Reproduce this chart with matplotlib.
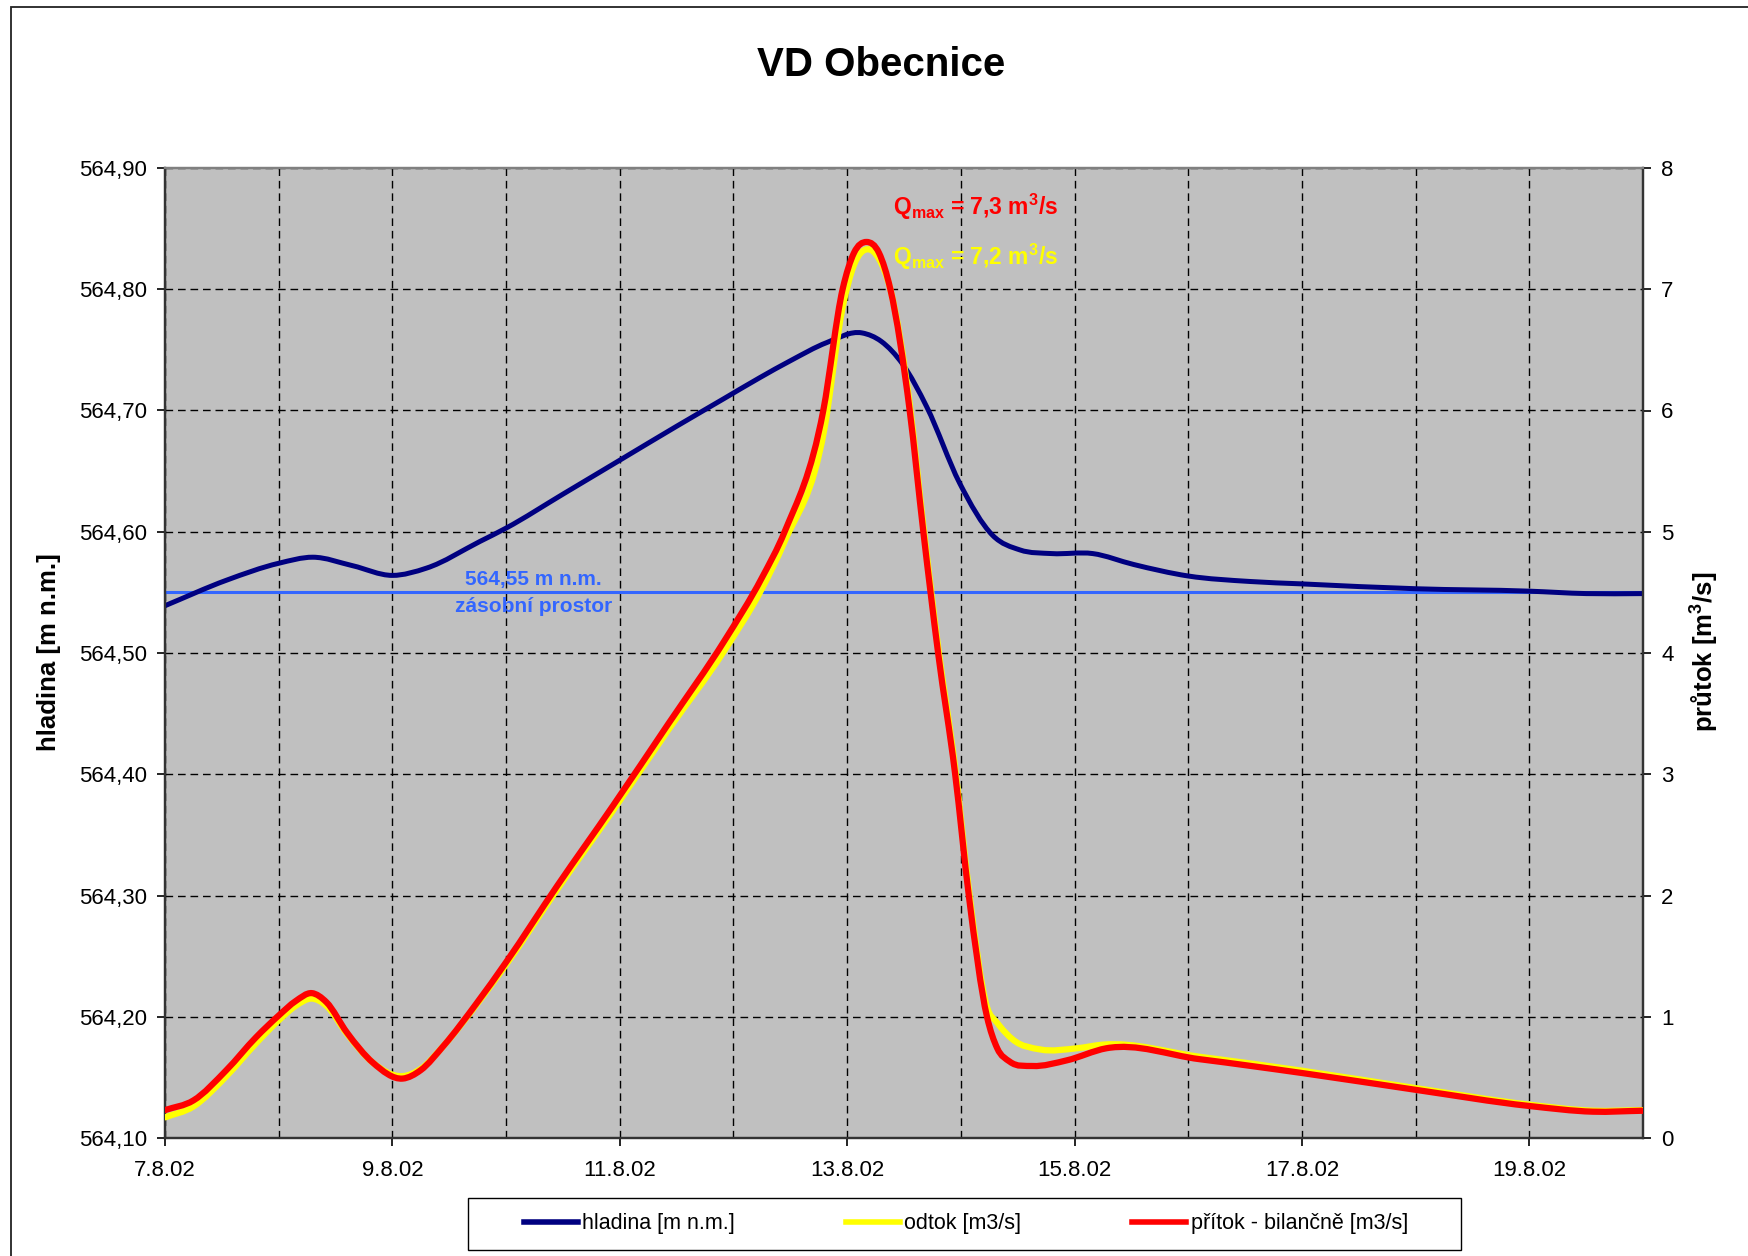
import numpy as np
import matplotlib
matplotlib.use('Agg')
import matplotlib.pyplot as plt
from matplotlib.path import Path
from matplotlib.patches import PathPatch, Rectangle
from matplotlib.lines import Line2D

plt.rcParams['font.family'] = ['Liberation Sans', 'DejaVu Sans']
plt.rcParams['mathtext.fontset'] = 'custom'
plt.rcParams['mathtext.bf'] = 'Liberation Sans:bold'
plt.rcParams['mathtext.rm'] = 'Liberation Sans:bold'

# days since 7.8.02
hladina_t = [0, 0.54, 1.0, 1.30, 1.65, 2.0, 2.3, 2.77, 3.0, 3.5, 4.0, 4.5, 4.92, 5.23, 5.5,
             5.82, 6.13, 6.3, 6.49, 6.70, 6.99, 7.28, 7.52, 7.8, 8.16, 8.52, 9.0,
             9.54, 10, 11, 12, 12.5, 13]
hladina = [564.539, 564.560, 564.574, 564.579, 564.572, 564.564, 564.570, 564.592, 564.603,
           564.631, 564.659, 564.687, 564.710, 564.727, 564.741, 564.756, 564.764, 564.757,
           564.738, 564.703, 564.640, 564.597, 564.585, 564.582, 564.582, 564.573,
           564.5635, 564.559, 564.557, 564.553, 564.551, 564.549, 564.549]

pritok_t = [0, 0.25, 0.54, 0.8, 1.0, 1.15, 1.29, 1.42, 1.6, 1.83, 2.09, 2.25, 2.45, 2.74, 3.0,
            3.45, 3.94, 4.43, 4.92, 5.25, 5.45, 5.79, 5.96, 6.06, 6.17, 6.28, 6.38, 6.55,
            6.67, 6.80, 6.95, 7.07, 7.23, 7.32, 7.43, 7.63, 7.93, 8.28, 9.1, 10, 11.01, 12,
            12.56, 13]
pritok = [0.23, 0.31, 0.56, 0.83, 1.01, 1.13, 1.195, 1.12, 0.87, 0.62, 0.49, 0.56, 0.76, 1.11,
          1.45, 2.08, 2.74, 3.42, 4.10, 4.62, 5.0, 6.0, 7.0, 7.3, 7.39, 7.3, 7.0, 6.0, 5.0, 4.0,
          3.0, 2.0, 1.0, 0.74, 0.63, 0.594, 0.64, 0.74, 0.65, 0.536, 0.396, 0.264, 0.217, 0.225]

odtok_t = [0, 0.25, 0.54, 0.8, 1.0, 1.15, 1.29, 1.42, 1.6, 1.83, 2.09, 2.25, 2.45, 2.74, 3.0,
           3.45, 3.94, 4.43, 4.92, 5.25, 5.45, 5.8, 5.96, 6.06, 6.18, 6.28, 6.38, 6.55, 6.67,
           6.80, 6.95, 7.07, 7.23, 7.32, 7.46, 7.7, 8.02, 8.25, 9.1, 10, 11.01, 12, 12.56, 13]
odtok = [0.17, 0.26, 0.51, 0.78, 0.97, 1.09, 1.15, 1.09, 0.86, 0.62, 0.51, 0.57, 0.76, 1.10,
         1.43, 2.05, 2.70, 3.37, 4.02, 4.53, 4.92, 5.85, 6.85, 7.2, 7.33, 7.25, 7.0, 6.05, 5.05,
         4.05, 3.05, 2.05, 1.08, 0.95, 0.81, 0.73, 0.74, 0.77, 0.67, 0.555, 0.41, 0.275, 0.225,
         0.23]

zasobni = 564.55
tick_days = [0, 2, 4, 6, 8, 10, 12]
tick_labels = ['7.8.02', '9.8.02', '11.8.02', '13.8.02', '15.8.02', '17.8.02', '19.8.02']


def smooth_path(xs, ys):
    # cubic Hermite through the points, drawn as bezier segments (Excel smoothed line)
    x = np.asarray(xs, float)
    y = np.asarray(ys, float)
    m = np.gradient(y, x)
    verts = [(x[0], y[0])]
    codes = [Path.MOVETO]
    for i in range(len(x) - 1):
        h = x[i + 1] - x[i]
        verts += [(x[i] + h / 3, y[i] + m[i] * h / 3),
                  (x[i + 1] - h / 3, y[i + 1] - m[i + 1] * h / 3),
                  (x[i + 1], y[i + 1])]
        codes += [Path.CURVE4] * 3
    return Path(verts, codes)


fig = plt.figure(figsize=(17.49, 12.56), dpi=100)
ax = fig.add_axes([165 / 1749, 1 - 1138 / 1256, 1478 / 1749, 970 / 1256])
ax2 = ax.twinx()

ax.set_facecolor('#C0C0C0')
ax.set_xlim(0, 13)
ax.set_ylim(564.10, 564.90)
ax2.set_ylim(0, 8)

ax.set_xticks(tick_days)
ax.set_xticklabels(tick_labels)
ax.set_xticks(np.arange(0, 14, 1), minor=True)
yt = np.round(np.arange(564.10, 564.901, 0.1), 2)
ax.set_yticks(yt)
ax.set_yticklabels([('%.2f' % v).replace('.', ',') for v in yt])
ax2.set_yticks(range(0, 9))

dash = (0, (5.5, 3.5))
ax.grid(True, which='both', axis='x', color='black', linestyle=dash, linewidth=1.0)
ax.grid(True, which='major', axis='y', color='black', linestyle=dash, linewidth=1.0)
ax.set_axisbelow(True)

ax.tick_params(axis='both', which='major', labelsize=16, length=6, width=1.2, direction='out', pad=7)
ax.tick_params(axis='x', which='major', pad=10)
ax.tick_params(axis='x', which='minor', length=0)
ax2.tick_params(axis='y', labelsize=16, length=6, width=1.2, direction='out', pad=7)

for a in (ax, ax2):
    for s in a.spines.values():
        s.set_color('#333333')
        s.set_linewidth(1.6)
    a.spines['top'].set_color('#808080')

# reference level
ax.axhline(zasobni, color='#3366FF', lw=2.2, zorder=2)
ax.text(3.24, 564.561, '564,55 m n.m.', color='#3366FF', fontsize=15, fontweight='bold',
        ha='center', va='center')
ax.text(3.24, 564.538, 'zásobní prostor', color='#3366FF', fontsize=15, fontweight='bold',
        ha='center', va='center')

ax.add_patch(PathPatch(smooth_path(hladina_t, hladina), fill=False, edgecolor='#000080',
                       lw=3.6, capstyle='round', joinstyle='round', zorder=3))
ax2.add_patch(PathPatch(smooth_path(odtok_t, odtok), fill=False, edgecolor='#FFFF00',
                        lw=4.5, capstyle='round', joinstyle='round', zorder=3))
ax2.add_patch(PathPatch(smooth_path(pritok_t, pritok), fill=False, edgecolor='#FF0000',
                        lw=4.5, capstyle='round', joinstyle='round', zorder=4))

ax2.text(6.40, 7.68, r'Q$_{\mathbf{max}}$ = 7,3 m$^{\mathbf{3}}$/s', color='#FF0000',
         fontsize=16.5, fontweight='bold', ha='left', va='center')
ax2.text(6.40, 7.27, r'Q$_{\mathbf{max}}$ = 7,2 m$^{\mathbf{3}}$/s', color='#FFFF00',
         fontsize=16.5, fontweight='bold', ha='left', va='center')

ax.set_ylabel('hladina [m n.m.]', fontsize=18.5, fontweight='bold')
ax.yaxis.set_label_coords(-0.0704, 0.501)
ax2.set_ylabel(r'průtok [m$^{\mathbf{3}}$/s]', fontsize=18.5, fontweight='bold')
ax2.yaxis.set_label_coords(1.0298, 0.501)

fig.text(881 / 1749, 1 - 65 / 1256, 'VD Obecnice', fontsize=29, fontweight='bold',
         ha='center', va='center')

# outer chart border (cropped at right and bottom)
fig.add_artist(Rectangle((10.7 / 1749, -0.1), 1.5, 1 - 7 / 1256 + 0.1, transform=fig.transFigure,
                         fill=False, edgecolor='#222222', lw=1.3))
# legend box
fig.add_artist(Rectangle((468 / 1749, 1 - 1250 / 1256), 993 / 1749, 52 / 1256,
                         transform=fig.transFigure, fill=False, edgecolor='black', lw=1.0))
handles = [Line2D([], [], color='#000080', lw=4),
           Line2D([], [], color='#FFFF00', lw=4),
           Line2D([], [], color='#FF0000', lw=4)]
labels = ['hladina [m n.m.]', 'odtok [m3/s]', 'přítok - bilančně [m3/s]']
fig.legend(handles, labels, loc='center', bbox_to_anchor=(966 / 1749, 1 - 1224 / 1256),
           ncol=3, frameon=False, fontsize=15.5, handlelength=2.5, handletextpad=0.2,
           columnspacing=5.16)

fig.savefig('out.png', dpi=100)
